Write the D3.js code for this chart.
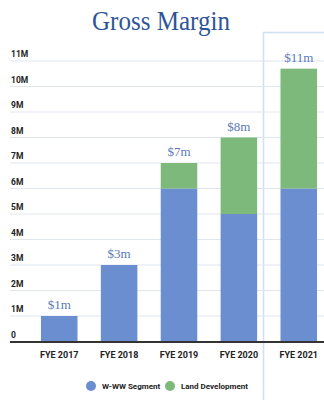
<!DOCTYPE html>
<html>
<head>
<meta charset="utf-8">
<script src="https://cdn.jsdelivr.net/npm/d3@7.9.0/dist/d3.min.js"></script>
<style>
  body { margin: 0; background: #fff; }
  svg { display: block; }
</style>
</head>
<body>
<svg id="chart" width="324" height="400"></svg>
<script>
// data (millions)
const years = ['FYE 2017', 'FYE 2018', 'FYE 2019', 'FYE 2020', 'FYE 2021'];
const segment = [1, 3, 6, 5, 6];
const landDev = [0, 0, 1, 3, 4.7];
const totals = ['$1m', '$3m', '$7m', '$8m', '$11m'];
const yTicks = [0, 1, 2, 3, 4, 5, 6, 7, 8, 9, 10, 11];
const seriesNames = ['W-WW Segment', 'Land Development'];
const colors = ['#6a8ed0', '#7db97a'];

const svg = d3.select('#chart');

const x = d3.scaleBand().domain(years).range([29, 329]).paddingInner(0.39).paddingOuter(0.2);
const y = d3.scaleLinear().domain([0, 11]).range([341.5, 61]);

// title
svg.append('text')
  .attr('x', 161).attr('y', 30)
  .attr('text-anchor', 'middle')
  .attr('font-family', 'Liberation Serif, serif')
  .attr('font-size', 28)
  .attr('textLength', 138)
  .attr('lengthAdjust', 'spacingAndGlyphs')
  .attr('fill', '#2e5597')
  .text('Gross Margin');

// highlight box for latest year
svg.append('rect')
  .attr('x', 263.5).attr('y', 32.5)
  .attr('width', 70).attr('height', 380)
  .attr('fill', 'none')
  .attr('stroke', '#cfe0ef')
  .attr('stroke-width', 1.5);

// grid + labels
const grid = svg.append('g');
grid.selectAll('line').data(yTicks.filter(d => d > 0)).join('line')
  .attr('x1', 10).attr('x2', 324)
  .attr('y1', d => y(d)).attr('y2', d => y(d))
  .attr('stroke', '#dfe6ee').attr('stroke-width', 1);
grid.selectAll('text').data(yTicks).join('text')
  .attr('x', 11).attr('y', d => y(d) - 4)
  .attr('font-family', 'Roboto, sans-serif')
  .attr('font-weight', 'bold')
  .attr('font-size', 8.5)
  .attr('fill', '#222')
  .text(d => d === 0 ? '0' : d + 'M');

// stacked bars
const rows = years.map((yr, i) => ({ year: yr, seg: segment[i], land: landDev[i] }));
const stack = d3.stack().keys(['seg', 'land'])(rows);
svg.append('g').selectAll('g').data(stack).join('g')
  .attr('fill', (d, i) => colors[i])
  .selectAll('rect').data(d => d).join('rect')
  .attr('x', d => x(d.data.year))
  .attr('width', x.bandwidth())
  .attr('y', d => y(d[1]))
  .attr('height', d => y(d[0]) - y(d[1]));

// total labels
svg.append('g').selectAll('text').data(years).join('text')
  .attr('x', d => x(d) + x.bandwidth() / 2)
  .attr('y', (d, i) => y(segment[i] + landDev[i]) - 7)
  .attr('text-anchor', 'middle')
  .attr('font-family', 'Liberation Serif, serif')
  .attr('font-size', 13)
  .attr('fill', '#5a7bb5')
  .text((d, i) => totals[i]);

// baseline
svg.append('line')
  .attr('x1', 10).attr('x2', 324)
  .attr('y1', y(0) + 0.5).attr('y2', y(0) + 0.5)
  .attr('stroke', '#333').attr('stroke-width', 2);

// x labels
svg.append('g').selectAll('text').data(years).join('text')
  .attr('x', d => x(d) + x.bandwidth() / 2)
  .attr('y', 358)
  .attr('text-anchor', 'middle')
  .attr('font-family', 'Roboto, sans-serif')
  .attr('font-weight', 'bold')
  .attr('font-size', 9)
  .attr('fill', '#222')
  .text(d => d);

// legend
const legX = [91, 170];
const leg = svg.append('g').selectAll('g').data(seriesNames).join('g')
  .attr('transform', (d, i) => `translate(${legX[i]},386)`);
leg.append('circle').attr('r', 5).attr('fill', (d, i) => colors[i]);
leg.append('text')
  .attr('x', 11).attr('y', 3)
  .attr('font-family', 'Roboto, sans-serif')
  .attr('font-weight', 'bold')
  .attr('font-size', 8)
  .attr('fill', '#222')
  .text(d => d);
</script>
</body>
</html>
